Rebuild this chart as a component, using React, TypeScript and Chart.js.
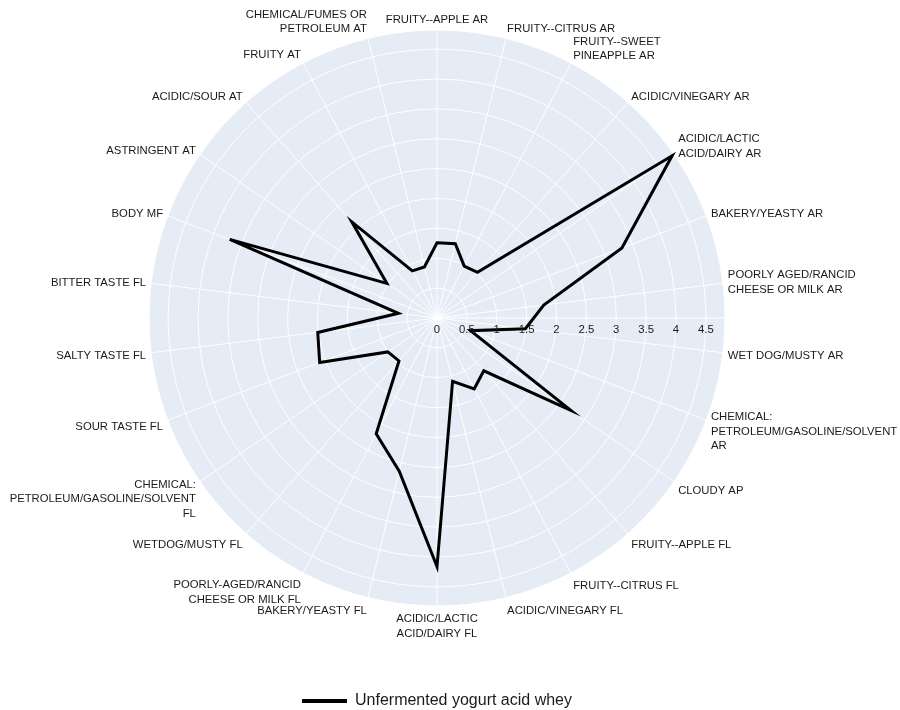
import React, { useEffect, useRef } from 'react';
import { Chart, registerables } from 'chart.js';

Chart.register(...registerables);

// ---------- data ----------
const CATEGORIES: (string | string[])[] = [
  'FRUITY--APPLE AR',
  'FRUITY--CITRUS AR',
  ['FRUITY--SWEET', 'PINEAPPLE AR'],
  'ACIDIC/VINEGARY AR',
  ['ACIDIC/LACTIC', 'ACID/DAIRY AR'],
  'BAKERY/YEASTY AR',
  ['POORLY AGED/RANCID', 'CHEESE OR MILK AR'],
  'WET DOG/MUSTY AR',
  ['CHEMICAL:', 'PETROLEUM/GASOLINE/SOLVENT', 'AR'],
  'CLOUDY AP',
  'FRUITY--APPLE FL',
  'FRUITY--CITRUS FL',
  'ACIDIC/VINEGARY FL',
  ['ACIDIC/LACTIC', 'ACID/DAIRY FL'],
  'BAKERY/YEASTY FL',
  ['POORLY-AGED/RANCID', 'CHEESE OR MILK FL'],
  'WETDOG/MUSTY FL',
  ['CHEMICAL:', 'PETROLEUM/GASOLINE/SOLVENT', 'FL'],
  'SOUR TASTE FL',
  'SALTY TASTE FL',
  'BITTER TASTE FL',
  'BODY MF',
  'ASTRINGENT AT',
  'ACIDIC/SOUR AT',
  'FRUITY AT',
  ['CHEMICAL/FUMES OR', 'PETROLEUM AT'],
];

const SERIES_NAME = 'Unfermented yogurt acid whey';

const SERIES_VALUES: number[] = [
  1.26, 1.28, 0.98, 1.02, 4.78, 3.31, 1.8, 1.49, 0.6, 2.72,
  1.18, 1.34, 1.09, 4.16, 2.64, 2.19, 0.96, 1.0, 2.1, 2.01,
  0.65, 3.71, 1.02, 2.15, 0.89, 0.88,
];

const RADIAL_TICKS: string[] = ['0', '0.5', '1', '1.5', '2', '2.5', '3', '3.5', '4', '4.5'];
const RADIAL_MIN = 0;
const RADIAL_MAX = 4.82;

// ---------- styling ----------
const FONT = '"Liberation Sans", Arial, Helvetica, sans-serif';
const TEXT_COLOR = '#1a1a1a';
const POLAR_BG = '#E5ECF6';
const CENTER_X = 437;
const CENTER_Y = 318;
const RADIUS = 288;
const LABEL_FS = 11.3;
const LABEL_LH = 14.6;
const LABEL_PAD = 5;

const polarPlugin = {
  id: 'polarDecor',
  beforeDraw(chart: any) {
    const s = chart.scales.r;
    const ctx = chart.ctx;
    ctx.save();
    ctx.fillStyle = POLAR_BG;
    ctx.beginPath();
    ctx.arc(s.xCenter, s.yCenter, s.drawingArea, 0, Math.PI * 2);
    ctx.fill();
    ctx.restore();
  },
  beforeDatasetsDraw(chart: any) {
    const s = chart.scales.r;
    const ctx = chart.ctx;
    ctx.save();
    ctx.strokeStyle = '#ffffff';
    ctx.lineWidth = 1;
    ctx.beginPath();
    ctx.moveTo(s.xCenter, s.yCenter);
    ctx.lineTo(s.xCenter + s.drawingArea, s.yCenter);
    ctx.stroke();
    ctx.restore();
  },
  afterDatasetsDraw(chart: any) {
    const s = chart.scales.r;
    const ctx = chart.ctx;
    ctx.save();
    // radial tick labels along the 0° axis
    ctx.font = `${LABEL_FS}px ${FONT}`;
    ctx.fillStyle = TEXT_COLOR;
    ctx.textAlign = 'center';
    ctx.textBaseline = 'middle';
    RADIAL_TICKS.forEach((t) => {
      const d = s.getDistanceFromCenterForValue(parseFloat(t));
      ctx.fillText(t, s.xCenter + d, s.yCenter + 12);
    });
    // angular labels
    const labels = chart.data.labels as (string | string[])[];
    const R = s.drawingArea;
    labels.forEach((lab, i) => {
      const lines = Array.isArray(lab) ? lab : [lab];
      const p = s.getPointPosition(i, R + LABEL_PAD);
      const cos = Math.cos(p.angle);
      const sin = -Math.sin(p.angle);
      const ff = sin > 0 ? 0.2 : 1;
      const x = p.x;
      const y0 =
        s.yCenter -
        sin * (R + LABEL_PAD + LABEL_FS * ff) +
        Math.abs(cos) * LABEL_FS * 0.35 -
        0.5 * (1 + sin) * (lines.length - 1) * LABEL_LH;
      ctx.textAlign = Math.abs(cos) < 0.1 ? 'center' : cos > 0 ? 'left' : 'right';
      ctx.textBaseline = 'alphabetic';
      lines.forEach((ln, k) => ctx.fillText(ln, x, y0 + k * LABEL_LH));
    });
    ctx.restore();
  },
};

export default function App() {
  const ref = useRef<HTMLCanvasElement>(null);

  useEffect(() => {
    document.body.style.margin = '0';
    const canvas = ref.current;
    if (!canvas) return;
    const chart = new Chart(canvas, {
      type: 'radar',
      data: {
        labels: CATEGORIES,
        datasets: [
          {
            label: SERIES_NAME,
            data: SERIES_VALUES,
            borderColor: '#000000',
            backgroundColor: '#000000',
            borderWidth: 3,
            borderJoinStyle: 'miter',
            fill: false,
            pointRadius: 0,
            pointHoverRadius: 0,
            tension: 0,
          },
        ],
      },
      options: {
        responsive: false,
        animation: false,
        events: [],
        layout: { padding: { left: 0, right: 26, top: 0, bottom: -9 } },
        plugins: {
          tooltip: { enabled: false },
          legend: {
            display: true,
            position: 'bottom',
            labels: {
              color: TEXT_COLOR,
              font: { family: FONT, size: 16 },
              boxWidth: 45,
              boxHeight: 4,
              padding: 4,
              generateLabels: (c: any) =>
                Chart.defaults.plugins.legend.labels.generateLabels(c).map((l: any) => ({
                  ...l,
                  fillStyle: '#000000',
                  strokeStyle: '#000000',
                  lineWidth: 0,
                })),
            },
          },
        },
        scales: {
          r: {
            min: RADIAL_MIN,
            max: RADIAL_MAX,
            ticks: { display: false, stepSize: 0.5 },
            grid: { color: '#ffffff', lineWidth: 1, circular: true },
            angleLines: { display: true, color: '#ffffff', lineWidth: 1 },
            pointLabels: { display: false },
            afterFit: (scale: any) => {
              scale.xCenter = CENTER_X;
              scale.yCenter = CENTER_Y;
              scale.drawingArea = RADIUS;
            },
          },
        },
      },
      plugins: [polarPlugin],
    });
    return () => chart.destroy();
  }, []);

  return (
    <div style={{ position: 'absolute', left: 0, top: 0, width: 900, height: 710 }}>
      <canvas ref={ref} width={900} height={710} style={{ width: 900, height: 710, display: 'block' }} />
    </div>
  );
}
